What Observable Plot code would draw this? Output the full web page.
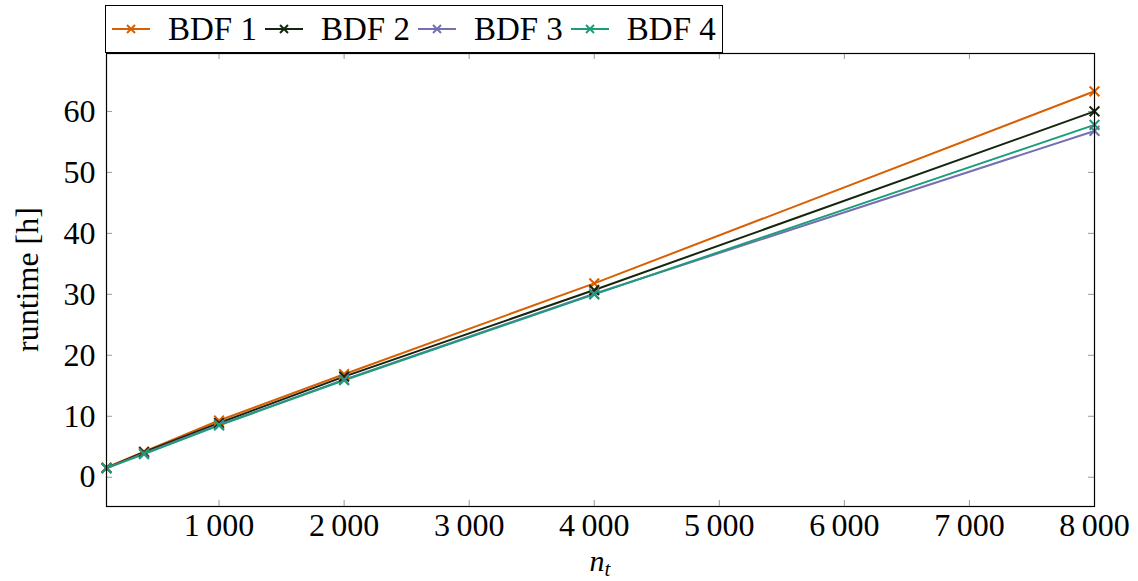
<!DOCTYPE html>
<html>
<head>
<meta charset="utf-8">
<script src="https://cdn.jsdelivr.net/npm/d3@7"></script>
<script src="https://cdn.jsdelivr.net/npm/@observablehq/plot@0.6"></script>
<style>
  html, body { margin: 0; padding: 0; background: #fff; }
  #wrap { position: relative; width: 1138px; height: 581px; font-family: "Liberation Serif", serif; }
  #legend { position: absolute; left: 105px; top: 5px; width: 616px; height: 46px; border: 1px solid #000; background: #fff;
            display: flex; align-items: center; font-size: 33px; color: #000; box-sizing: content-box; }
  .entry { display: flex; align-items: center; margin-left: 6px; }
  .entry svg { margin-right: 18px; }
  .entry span { margin-right: 2px; }
</style>
</head>
<body>
<div id="wrap">
  <div id="chart"></div>
  <div id="legend"></div>
</div>
<script>
const nt = [100, 400, 1000, 2000, 4000, 8000];
const bdf1 = [1.6, 4.2, 9.3, 16.9, 31.8, 63.3];
const bdf2 = [1.5, 4.1, 8.9, 16.5, 30.7, 60.0];
const bdf3 = [1.5, 3.9, 8.6, 16.0, 30.1, 56.8];
const bdf4 = [1.5, 3.8, 8.5, 15.9, 30.0, 57.8];
const seriesNames = ["BDF 1", "BDF 2", "BDF 3", "BDF 4"];
const seriesColors = ["#d95f02", "#14260c", "#7570b3", "#1b9e77"];
const xTicks = [1000, 2000, 3000, 4000, 5000, 6000, 7000, 8000];
const yTicks = [0, 10, 20, 30, 40, 50, 60];

const allSeries = [bdf1, bdf2, bdf3, bdf4];
const data = [];
allSeries.forEach((vals, i) => vals.forEach((v, j) => data.push({series: seriesNames[i], x: nt[j], y: v})));

const fmt = d => d >= 1000 ? d3.format("d")(Math.floor(d / 1000)) + "\u2009" + d3.format("03d")(d % 1000) : String(d);

const W = 1138, H = 581, mL = 106, mR = 44, mT = 53, mB = 75;
const innerW = W - mL - mR, innerH = H - mT - mB;
const tl = 6;

const plot = Plot.plot({
  width: W, height: H,
  marginLeft: mL, marginRight: mR, marginTop: mT, marginBottom: mB,
  style: {fontFamily: "Liberation Serif, serif", fontSize: "32px", color: "#000", background: "#fff"},
  x: {domain: [100, 8000]},
  y: {domain: [-4.8, 69.5]},
  color: {domain: seriesNames, range: seriesColors},
  marks: [
    Plot.tickX(xTicks, {x: d => d, insetTop: innerH - tl, stroke: "#999", strokeWidth: 1}),
    Plot.tickX(xTicks, {x: d => d, insetBottom: innerH - tl, stroke: "#999", strokeWidth: 1}),
    Plot.tickY(yTicks, {y: d => d, insetRight: innerW - tl, stroke: "#999", strokeWidth: 1}),
    Plot.tickY(yTicks, {y: d => d, insetLeft: innerW - tl, stroke: "#999", strokeWidth: 1}),
    Plot.axisX({ticks: xTicks, tickSize: 0, tickPadding: 7, tickFormat: fmt, label: null, fontSize: 32, fill: "#000"}),
    Plot.axisY({ticks: yTicks, tickSize: 0, tickPadding: 11, tickFormat: fmt, label: null, fontSize: 32, fill: "#000"}),
    Plot.line(data, {x: "x", y: "y", z: "series", stroke: "series", strokeWidth: 2}),
    Plot.dot(data, {x: "x", y: "y", stroke: "series", symbol: "times", r: 4.5, strokeWidth: 2}),
    Plot.frame({stroke: "#000", strokeWidth: 1.2})
  ]
});
document.getElementById("chart").appendChild(plot);

const svg = d3.select(plot);
const xl = svg.append("text")
  .attr("x", mL + innerW / 2).attr("y", 571)
  .attr("text-anchor", "middle")
  .attr("font-family", "Liberation Serif, serif")
  .attr("font-size", 30).attr("fill", "#000");
xl.append("tspan").attr("font-style", "italic").text("n");
xl.append("tspan").attr("font-style", "italic").attr("font-size", 21).attr("dy", 5).text("t");

svg.append("text")
  .attr("transform", `translate(38, ${mT + innerH / 2}) rotate(-90)`)
  .attr("text-anchor", "middle")
  .attr("font-family", "Liberation Serif, serif")
  .attr("font-size", 32).attr("fill", "#000")
  .text("runtime [h]");

const legend = d3.select("#legend");
seriesNames.forEach((name, i) => {
  const e = legend.append("div").attr("class", "entry");
  const s = e.append("svg").attr("width", 38).attr("height", 20);
  s.append("line").attr("x1", 0).attr("x2", 38).attr("y1", 10).attr("y2", 10)
    .attr("stroke", seriesColors[i]).attr("stroke-width", 2);
  s.append("path").attr("d", "M15,6L23,14M15,14L23,6")
    .attr("stroke", seriesColors[i]).attr("stroke-width", 2);
  e.append("span").text(name);
});
</script>
</body>
</html>
